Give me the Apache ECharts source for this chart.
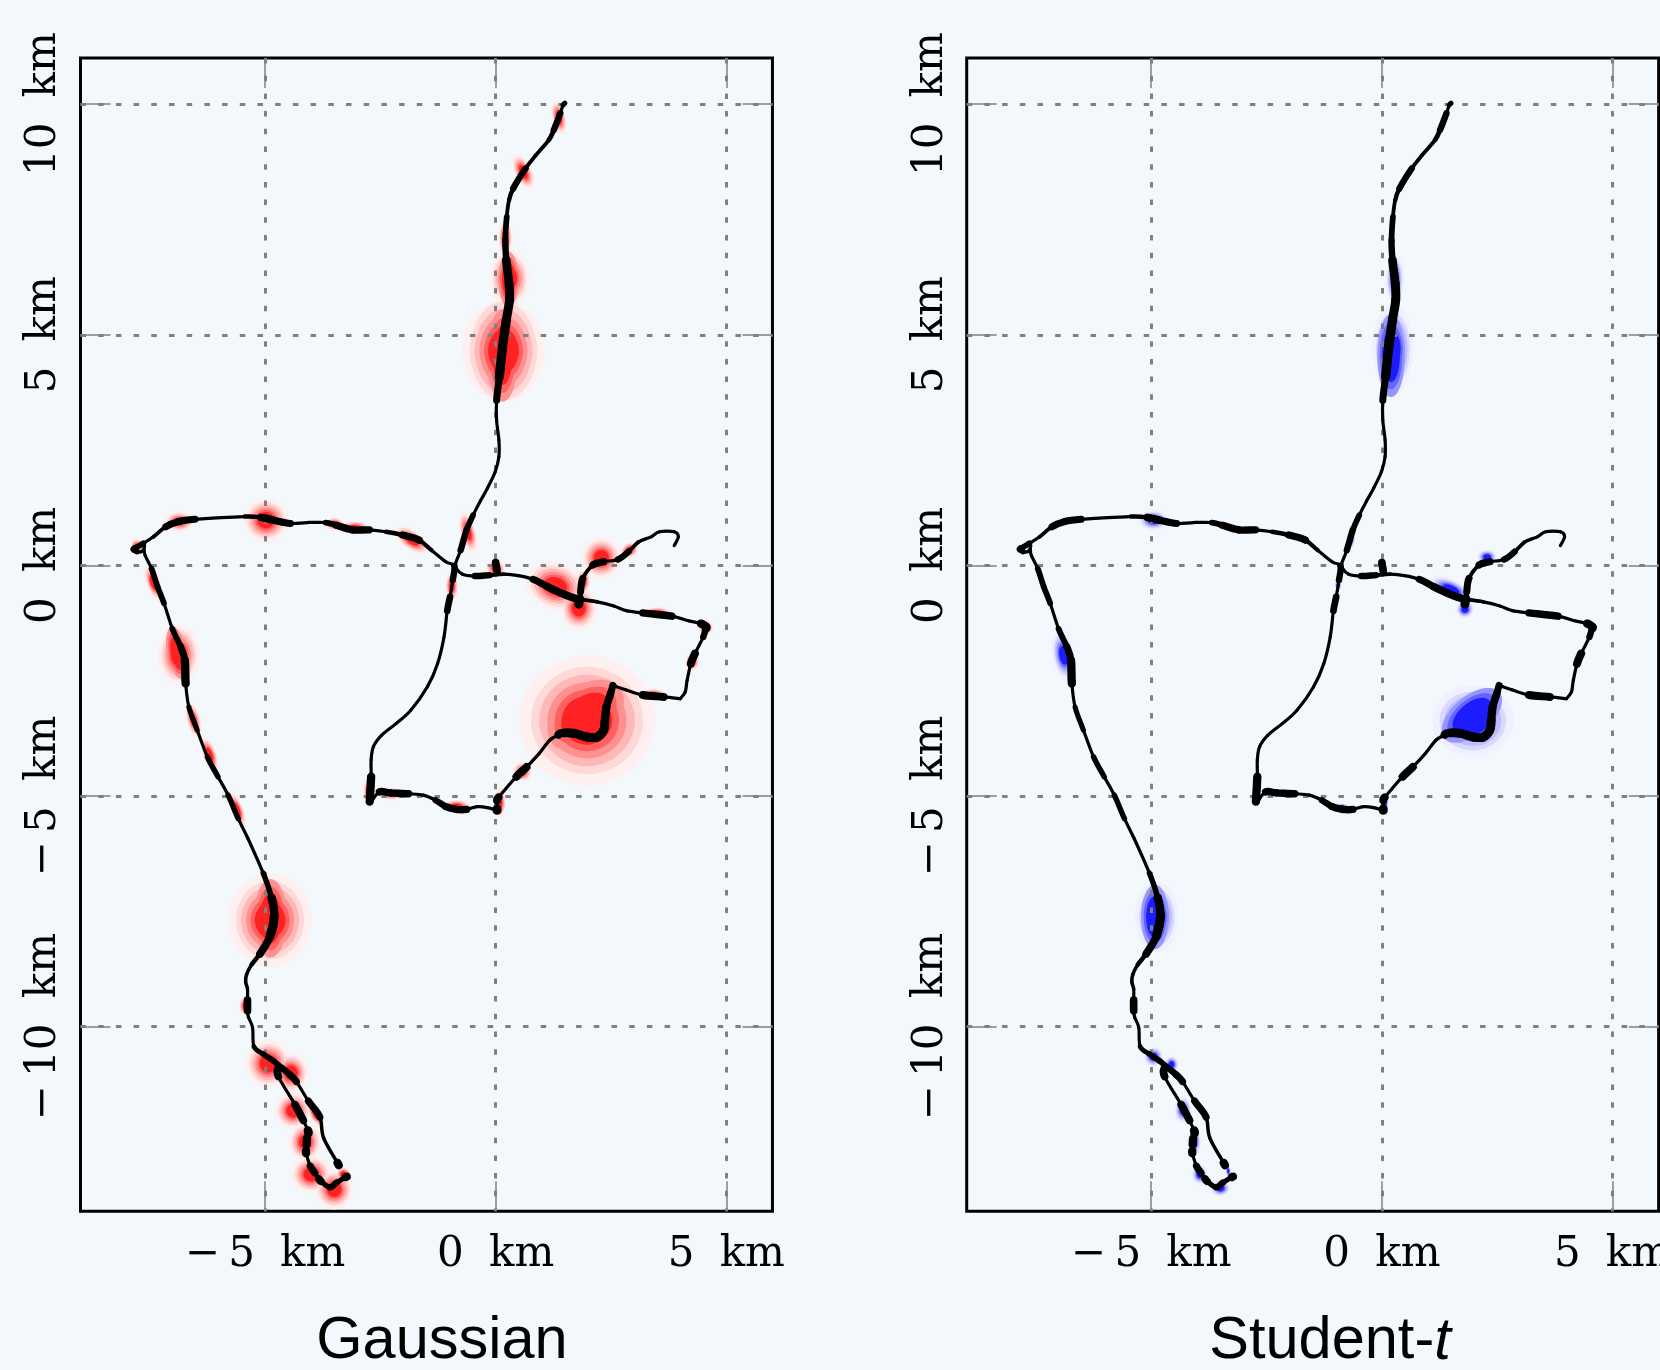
<!DOCTYPE html>
<html><head><meta charset="utf-8">
<script src="https://cdn.jsdelivr.net/npm/echarts@6/dist/echarts.min.js"></script>
<style>html,body{margin:0;padding:0;background:#f3f8fc}#c{width:1660px;height:1370px}</style></head>
<body><div id="c"></div>
<script>
// ---- tick values and labels (km) ----
const xTicks = [-5, 0, 5];
const yTicks = [-10, -5, 0, 5, 10];
const tickLabels = {'-10':'\u2212\u200910\u2002\u200Akm','-5':'\u2212\u20095\u2002\u200Akm','0':'0\u2002\u200Akm','5':'5\u2002\u200Akm','10':'10\u2002\u200Akm'};
const panelTitles = ['Gaussian', '{r|Student-}{i|t}'];

// ---- track legs: [east km, north km, observation weight] ----
const northLeg = [[1.50,10.02,1.6],[1.46,9.98,1],[1.40,9.80,2],[1.26,9.44,1.5],[1.15,9.22,1.2],[0.87,8.89,1.2],[0.65,8.61,2],[0.38,8.17,1.4],[0.29,7.92,1.2],[0.24,7.56,1.8],[0.21,7.05,2],[0.23,6.62,2.7],[0.29,6.11,2.8],[0.30,5.75,2.8],[0.23,5.32,2.9],[0.15,4.74,2.9],[0.08,4.09,2.2],[0.02,3.58,1],[0.02,3.15,1],[0.07,2.72,1],[0.07,2.36,1],[-0.01,2.03,1],[-0.18,1.67,1],[-0.33,1.40,1],[-0.49,1.09,1.8],[-0.63,0.77,2],[-0.76,0.33,1],[-0.87,0.04,1],[-0.85,-0.07,1],[-0.72,-0.19,1],[-0.45,-0.23,2],[-0.13,-0.21,1.2],[0.18,-0.19,1],[0.49,-0.22,1],[0.81,-0.30,2.2],[1.12,-0.46,2.4],[1.44,-0.61,2.4],[1.75,-0.72,1.2],[2.20,-0.79,1],[2.56,-0.88,1],[2.83,-0.98,1],[3.19,-1.03,2.3],[3.82,-1.10,1],[4.18,-1.20,1],[4.45,-1.26,2.6],[4.56,-1.33,2.6],[4.57,-1.36,2.6]];
const eastLeg = [[4.56,-1.33,2],[4.50,-1.55,1],[4.32,-1.91,2.5],[4.23,-2.13,1],[4.15,-2.49,1],[4.11,-2.74,1],[4.00,-2.89,1]];
const ridgeLeg = [[4.00,-2.89,1],[3.64,-2.85,2.5],[3.19,-2.81,1],[2.83,-2.70,1],[2.54,-2.60,1]];
const hillLeg = [[2.54,-2.60,2.2],[2.49,-2.78,2.4],[2.40,-3.07,2.6],[2.37,-3.36,2.8],[2.34,-3.57,2.8],[2.20,-3.72,2.8],[1.98,-3.72,2.8],[1.71,-3.64,2.8],[1.48,-3.63,1],[1.35,-3.68,1],[1.17,-3.79,1],[0.94,-4.08,1],[0.67,-4.37,2.5],[0.45,-4.58,1],[0.22,-4.84,1],[0.06,-5.03,2.5],[0.03,-5.09,1],[0.03,-5.28,2.8],[0.03,-5.31,2.8]];
const hillDot = [[1.40,-3.64,2.6],[1.36,-3.67,2.6]];
const southEastLeg = [[0.03,-5.31,1],[-0.18,-5.25,1],[-0.40,-5.23,1],[-0.63,-5.29,2.3],[-0.85,-5.29,2.3],[-1.08,-5.23,2],[-1.30,-5.09,1],[-1.57,-4.98,1],[-1.89,-4.95,2.3],[-2.29,-4.93,2.3],[-2.52,-4.91,1],[-2.70,-5.13,1.5]];
const returnLeg = [[-2.73,-5.12,2.6],[-2.70,-4.58,1],[-2.70,-4.22,1],[-2.65,-3.93,1],[-2.47,-3.68,1],[-2.16,-3.43,1],[-1.84,-3.14,1],[-1.48,-2.63,1],[-1.26,-2.13,1],[-1.12,-1.55,1],[-1.05,-0.98,2.1],[-0.99,-0.68,1],[-0.93,-0.32,2],[-0.90,-0.01,1],[-1.08,0.08,1],[-1.39,0.33,1.3],[-1.66,0.55,2.3],[-2.02,0.66,1.4],[-2.38,0.73,1],[-2.74,0.77,2.3],[-3.10,0.77,2.3],[-3.46,0.87,1.8],[-3.69,0.93,1],[-4.09,0.93,1],[-4.45,0.91,2.2],[-4.81,0.98,2.4],[-5.08,1.04,1.4],[-5.44,1.06,1],[-6.52,1.00,2.2],[-6.88,0.95,2.2],[-7.15,0.84,1.2],[-7.42,0.62,1],[-7.64,0.48,1.8],[-7.82,0.37,2.2],[-7.84,0.35,2.2]];
const cornerLeg = [[-7.82,0.37,1.8],[-7.78,0.30,1],[-7.66,0.31,1],[-7.61,0.42,1]];
const westLeg = [[-7.62,0.36,1],[-7.60,0.22,1],[-7.46,-0.07,1.8],[-7.33,-0.46,1.8],[-7.19,-0.82,1],[-7.01,-1.37,1.8],[-6.83,-1.76,2.2],[-6.74,-2.05,2.6],[-6.72,-2.56,1],[-6.65,-3.07,1.6],[-6.47,-3.57,1],[-6.25,-4.15,1.7],[-6.02,-4.58,1],[-5.80,-4.98,1.7],[-5.58,-5.49,1],[-5.37,-5.92,1],[-5.04,-6.67,1.7],[-4.86,-7.20,2.6],[-4.80,-7.58,2.8],[-4.89,-8.04,2.4],[-5.11,-8.42,1.4],[-5.29,-8.65,1.1],[-5.40,-8.87,1.1],[-5.42,-9.03,1.1],[-5.38,-9.18,1],[-5.38,-9.42,2.4],[-5.38,-9.65,1],[-5.36,-9.79,1],[-5.27,-10.02,1],[-5.24,-10.43,1.5],[-5.04,-10.59,1.8],[-4.82,-10.74,1.8],[-4.64,-10.89,2],[-4.46,-11.04,2.2],[-4.32,-11.19,1],[-4.06,-11.61,2.2],[-3.81,-11.96,1.1],[-3.73,-12.41,1.1],[-3.43,-12.95,2.6],[-3.41,-12.98,2.6]];
const loopLeg = [[-4.71,-10.88,2.4],[-4.71,-11.08,1],[-4.35,-11.69,2.4],[-4.17,-12.03,1],[-4.07,-12.25,2.7],[-4.06,-12.31,1],[-4.09,-12.42,2.6],[-4.10,-12.56,1],[-4.11,-12.69,2.6],[-4.11,-12.74,1],[-4.02,-13.02,2.2],[-3.92,-13.17,1.2],[-3.83,-13.30,2.4],[-3.79,-13.35,1.6],[-3.59,-13.48,2],[-3.45,-13.38,1.6],[-3.25,-13.26,2.6],[-3.23,-13.25,2.6]];
const spurLeg = [[1.80,-0.84,2.8],[1.82,-0.72,1.5],[1.84,-0.57,2.2],[1.89,-0.28,1.2],[2.11,0.01,2.3],[2.34,0.08,1],[2.65,0.13,2],[2.88,0.30,1.2],[3.10,0.51,1],[3.37,0.62,1],[3.55,0.73,1],[3.87,0.73,1],[3.96,0.62,1],[3.87,0.43,1]];
const stubLeg = [[0.00,0.06,2.4],[0.03,-0.12,1.5]];
const trackLegs = [northLeg,eastLeg,ridgeLeg,hillLeg,hillDot,southEastLeg,returnLeg,cornerLeg,westLeg,loopLeg,spurLeg,stubLeg];

// ---- error patches: [east km, north km, east radius, north radius, tilt deg, first contour] ----
const gaussianPatches = [[0.17,4.65,0.9,1.1,0,0],[0.17,4.65,0.72,1.07,0,1],[0.15,4.55,0.34,1.0,0,3],[0.30,6.22,0.44,0.62,0,0],[0.28,6.2,0.22,0.6,0,3],[0.21,7.1,0.16,0.42,0,0],[0.60,8.53,0.2,0.42,25,0],[1.37,9.71,0.16,0.38,12,0],
[-4.98,0.98,0.5,0.48,0,0],[-6.86,0.95,0.32,0.22,0,0],[-7.78,0.40,0.15,0.19,0,0],[-3.5,0.9,0.22,0.15,0,0],[-3.05,0.82,0.32,0.15,0,0],[-1.82,0.55,0.46,0.22,-35,0],[-0.6,0.72,0.18,0.47,15,0],[-0.95,-0.45,0.15,0.32,0,0],[0,-0.07,0.22,0.2,0,0],
[1.3,-0.45,0.68,0.52,-20,0],[1.8,-0.93,0.4,0.48,0,0],[1.9,-0.35,0.16,0.27,0,0],[2.29,0.16,0.44,0.46,0,0],[2.9,0.33,0.22,0.17,30,0],[4.55,-1.35,0.18,0.18,0,0],[4.26,-2.09,0.16,0.2,0,0],[3.5,-1.03,0.32,0.14,0,0],[3.42,-2.8,0.27,0.14,0,0],
[1.98,-3.36,1.48,1.42,0,0],[1.95,-3.25,0.95,0.62,40,3],[0.58,-4.47,0.22,0.22,0,0],[0.09,-5.15,0.14,0.32,0,0],[-0.85,-5.22,0.32,0.15,0,0],[-2.25,-4.95,0.27,0.14,0,0],[-2.75,-4.9,0.13,0.32,0,0],
[-7.42,-0.38,0.16,0.42,20,0],[-6.87,-1.94,0.46,0.66,0,0],[-6.9,-1.9,0.22,0.58,12,3],[-6.55,-3.35,0.16,0.42,15,0],[-6.2,-4.1,0.16,0.42,20,0],[-5.6,-5.3,0.14,0.42,20,0],
[-4.89,-7.69,0.9,1.03,0,0],[-4.88,-7.65,0.36,0.85,0,3],[-5.43,-9.55,0.14,0.22,0,0],[-4.93,-10.8,0.5,0.52,0,0],[-4.44,-11.0,0.38,0.43,0,0],[-4.39,-11.82,0.4,0.4,0,0],[-4.13,-12.5,0.36,0.42,0,0],[-4.0,-13.2,0.44,0.41,0,0],[-3.5,-13.53,0.42,0.43,0,0],[-3.3,-13.2,0.17,0.17,0,0],[-3.9,-11.9,0.14,0.32,30,0]];
const studentPatches = [[0.24,4.7,0.45,0.96,0,0],[0.2,4.55,0.3,0.9,0,3],[0.28,6.2,0.2,0.56,0,0],[-4.95,0.98,0.32,0.22,0,0],[1.5,-0.52,0.52,0.22,-25,0],[1.8,-0.95,0.2,0.2,0,0],[2.28,0.18,0.22,0.17,0,0],[-6.9,-1.95,0.25,0.55,10,0],[-0.95,-0.43,0.08,0.13,0,0],[0.07,-5.15,0.08,0.22,0,0],
[1.97,-3.37,0.88,0.78,0,0],[1.95,-3.25,0.78,0.42,40,3],[-4.88,-7.62,0.47,0.76,0,0],[-4.92,-7.62,0.3,0.7,0,3],[-5.39,-9.6,0.08,0.16,0,0],[-4.95,-10.65,0.22,0.22,0,0],[-4.56,-10.82,0.16,0.19,0,0],[-4.31,-11.8,0.19,0.29,0,0],[-4.07,-12.5,0.16,0.29,0,0],[-3.95,-13.2,0.17,0.22,0,0],[-3.5,-13.5,0.22,0.18,0,0],[-3.33,-13.13,0.06,0.13,0,0],[-0.65,0.62,0.07,0.26,0,0],[-0.87,-5.22,0.16,0.06,0,0]];

const contourScale = [1, 0.82, 0.7, 0.58, 0.47, 0.37];
const redLevels = ['#fff0f0','#ffd8d8','#ffb8b8','#ff9090','#ff6060','#ff2222'];
const blueLevels = ['#f0f0ff','#d9d9ff','#bebeff','#9696ff','#6464ff','#1c1cff'];

const chart = echarts.init(document.getElementById('c'), null, {renderer:'canvas'});
const PX = 46.13, GRIDS = [80.5, 966.7];
const grid = GRIDS.map(l => ({left:l, top:58, width:15*PX, height:25*PX, show:true, borderColor:'#000', borderWidth:3, backgroundColor:'transparent', containLabel:false, outerBoundsMode:'none'}));
const tickStyle = {show:true, inside:true, length:30, lineStyle:{color:'#808080', width:1.5}};
const labelStyle = {fontFamily:'"DejaVu Serif"', fontSize:42, color:'#000'};
const gridLine = {show:true, lineStyle:{color:'#808080', width:3, type:[5.5,12.2], cap:'butt'}};
const xAxis=[], yAxis=[];
GRIDS.forEach((_, g) => {
  ['bottom','top'].forEach((pos,k) => xAxis.push({type:'value', gridIndex:g, position:pos, min:-9, max:6, z:1,
    axisLine:{show:false, onZero:false},
    axisTick:Object.assign({customValues:xTicks}, tickStyle),
    axisLabel:k?{show:false,customValues:xTicks}:Object.assign({show:true, customValues:xTicks, margin:23, hideOverlap:false, formatter:v=>tickLabels[v]||''}, labelStyle),
    splitLine:k?{show:false}:gridLine}));
  ['left','right'].forEach((pos,k) => yAxis.push({type:'value', gridIndex:g, position:pos, min:-14, max:11, z:1,
    axisLine:{show:false, onZero:false},
    axisTick:Object.assign({customValues:yTicks}, tickStyle),
    axisLabel:k?{show:false,customValues:yTicks}:Object.assign({show:true, customValues:yTicks, rotate:90, margin:15, hideOverlap:false, formatter:v=>tickLabels[v]||''}, labelStyle),
    splitLine:k?{show:false}:gridLine}));
});

function patchSeries(patches, colors, axisIdx){
  const rows=[];
  contourScale.forEach((s,l)=>patches.forEach(p=>{ if(l>=p[5]) rows.push([p[0],p[1],p[2],p[3],p[4],l,p[5]]); }));
  return {type:'custom', xAxisIndex:axisIdx, yAxisIndex:axisIdx, z:0, silent:true, animation:false, clip:true,
    encode:{x:0,y:1}, data:rows,
    renderItem:(params,api)=>{
      const cx=api.value(0),cy=api.value(1),rx=api.value(2),ry=api.value(3),a=api.value(4)*Math.PI/180,l=api.value(5),b=api.value(6);
      const s=contourScale[l]/contourScale[b], pts=[];
      for(let i=0;i<48;i++){
        const t=i/48*2*Math.PI, ex=rx*s*Math.cos(t), ey=ry*s*Math.sin(t);
        pts.push(api.coord([cx+ex*Math.cos(a)-ey*Math.sin(a), cy+ex*Math.sin(a)+ey*Math.cos(a)]));
      }
      return {type:'polygon', shape:{points:pts}, style:{fill:colors[l], stroke:null}};
    }};
}
function trackSeries(axisIdx){
  const rows=[];
  trackLegs.forEach((leg,li)=>leg.forEach((p,i)=>{ if(i<leg.length-1) rows.push([p[0],p[1],p[2],li,i]); }));
  return {type:'custom', xAxisIndex:axisIdx, yAxisIndex:axisIdx, z:5, silent:true, animation:false, clip:true,
    encode:{x:0,y:1}, data:rows,
    renderItem:(params,api)=>{
      const leg=trackLegs[api.value(3)], i=api.value(4);
      const c=k=>api.coord(leg[Math.max(0,Math.min(leg.length-1,k))]);
      const p0=c(i-1),p1=c(i),p2=c(i+1),p3=c(i+2);
      return {type:'bezierCurve', shape:{x1:p1[0],y1:p1[1],x2:p2[0],y2:p2[1],
        cpx1:p1[0]+(p2[0]-p0[0])/6, cpy1:p1[1]+(p2[1]-p0[1])/6,
        cpx2:p2[0]-(p3[0]-p1[0])/6, cpy2:p2[1]-(p3[1]-p1[1])/6},
        style:{stroke:'#000', fill:null, lineWidth:api.value(2)*3.2, lineCap:'round'}};
    }};
}
const titleFont={fontFamily:'"Liberation Sans"', fontSize:59.5, fontWeight:'normal', color:'#000'};
chart.setOption({
  backgroundColor:'#f3f8fc', animation:false,
  title:[{text:panelTitles[0], left:437, top:1307, textAlign:'center', textStyle:titleFont},
         {text:panelTitles[1], left:1325, top:1307, textAlign:'center', textStyle:{fontWeight:'normal',rich:{r:titleFont, i:Object.assign({fontStyle:'italic'},titleFont)}}}],
  grid, xAxis, yAxis,
  series:[patchSeries(gaussianPatches,redLevels,0), trackSeries(0), patchSeries(studentPatches,blueLevels,2), trackSeries(2)]
});
</script></body></html>
